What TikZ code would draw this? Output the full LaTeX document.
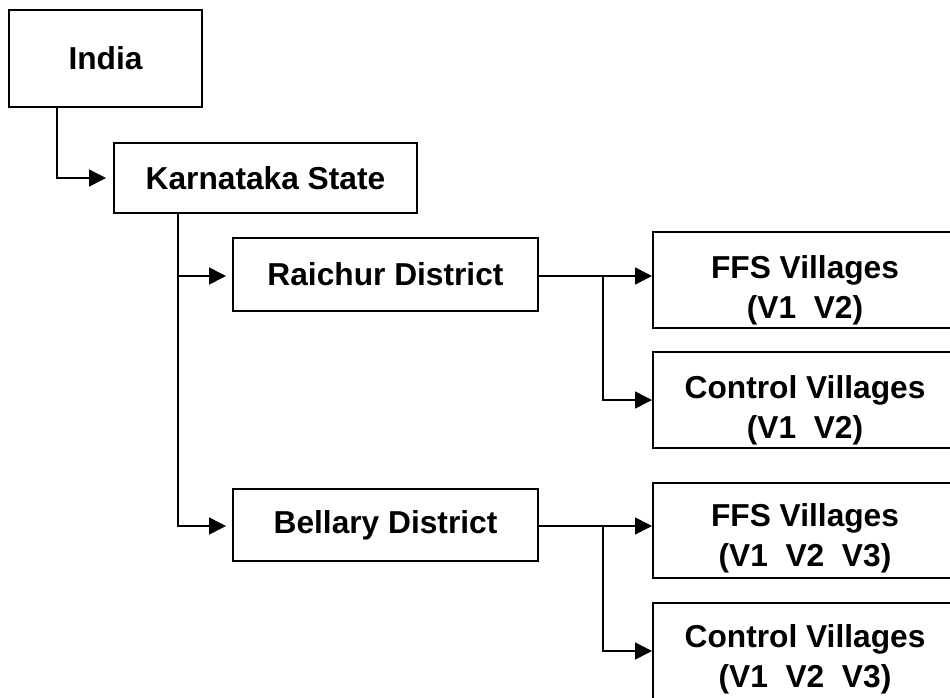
\documentclass[tikz,border=0pt]{standalone}
\usepackage{fontspec}
\setmainfont{Liberation Sans}
\usetikzlibrary{arrows.meta,calc}
\begin{document}
\begin{tikzpicture}[x=1pt,y=-1pt,
  box/.style={draw=black, line width=1.6pt, inner sep=0pt, outer sep=0pt},
  lbl/.style={font=\bfseries\fontsize{31.7}{40}\selectfont, align=center, inner sep=0pt},
  conn/.style={draw=black, line width=1.6pt, -{Triangle[length=17pt,width=17pt]}}
]
\clip (0,0) rectangle (950,697);
\fill[white] (0,0) rectangle (950,697);

\node[box, lbl, minimum width=193pt, minimum height=97pt] (india) at (105.5,58.5) {India};
\node[box, lbl, minimum width=303pt, minimum height=70pt] (karn) at (265.5,178) {Karnataka State};
\node[box, lbl, minimum width=305pt, minimum height=73pt] (raichur) at (385.5,274.5) {Raichur District};
\node[box, lbl, minimum width=305pt, minimum height=72pt] (bellary) at (385.5,525) {Bellary District};

\node[box, minimum width=304pt, minimum height=96pt] (ffs1) at (805,280) {};
\node[box, minimum width=304pt, minimum height=96pt] (ctrl1) at (805,400) {};
\node[box, minimum width=304pt, minimum height=95pt] (ffs2) at (805,530.5) {};
\node[box, minimum width=304pt, minimum height=96pt] (ctrl2) at (805,651) {};

\node[lbl] (ffs1t) at ([yshift=-10pt]ffs1.center) {FFS Villages\\(V1~~V2)};
\node[lbl] (ctrl1t) at ([yshift=-10pt]ctrl1.center) {Control Villages\\(V1~~V2)};
\node[lbl] (ffs2t) at ([yshift=-8pt]ffs2.center) {FFS Villages\\(V1~~V2~~V3)};
\node[lbl] (ctrl2t) at ([yshift=-8pt]ctrl2.center) {Control Villages\\(V1~~V2~~V3)};

\coordinate (ij) at ([xshift=48pt]india.south west);
\coordinate (kj) at ([xshift=64pt]karn.south west);
\coordinate (rj) at ([xshift=65pt,yshift=-1.5pt]raichur.east);
\coordinate (bj) at ([xshift=65pt,yshift=-1pt]bellary.east);

\draw[conn, shorten >=8pt] (ij) |- (karn.west);
\draw[conn, shorten >=7pt] (kj) |- ([yshift=-1.5pt]raichur.west);
\draw[conn, shorten >=7pt] (kj) |- ([yshift=-1pt]bellary.west);

\draw[conn, shorten >=1pt] ([yshift=-1.5pt]raichur.east) -- (rj -| ffs1.west);
\draw[conn, shorten >=1pt] (rj) |- (ctrl1.west);
\draw[conn, shorten >=1pt] ([yshift=-1pt]bellary.east) -- (bj -| ffs2.west);
\draw[conn, shorten >=1pt] (bj) |- (ctrl2.west);
\end{tikzpicture}
\end{document}
